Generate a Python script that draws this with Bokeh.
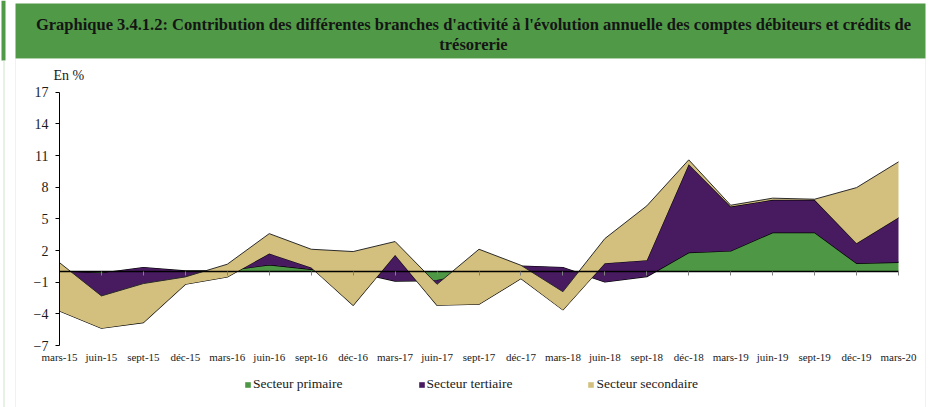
from bokeh.plotting import figure
from bokeh.models import (Range1d, FixedTicker, LinearAxis, Legend, LegendItem,
                          Label, BoxAnnotation, ColumnDataSource)
from bokeh.embed import file_html
from bokeh.resources import INLINE
import numpy as np

categories = ["mars-15", "juin-15", "sept-15", "déc-15", "mars-16", "juin-16", "sept-16",
              "déc-16", "mars-17", "juin-17", "sept-17", "déc-17", "mars-18", "juin-18",
              "sept-18", "déc-18", "mars-19", "juin-19", "sept-19", "déc-19", "mars-20"]
primaire = [0.00, -0.15, 0.38, 0.07, 0.10, 0.64, 0.22, 0.00, -0.90, -0.85, 0.00,
            0.53, 0.38, -0.98, -0.47, 1.80, 1.96, 3.70, 3.70, 0.79, 0.89]
tertiaire = [-3.73, -5.22, -5.21, -1.27, -0.60, 1.07, 0.18, -3.19, 2.48, -2.34, -3.09,
             -1.19, -4.01, 1.78, 1.55, 8.38, 4.20, 3.10, 3.10, 1.90, 4.23]
secondaire = [4.58, 3.07, 3.70, 0.70, 1.20, 1.89, 1.72, 5.09, 1.27, 1.99, 5.21,
              1.26, 1.73, 2.33, 5.15, 0.41, 0.13, 0.16, 0.06, 5.27, 5.28]
y_ticks = [-7, -4, -1, 2, 5, 8, 11, 14, 17]
series_names = ["Secteur primaire", "Secteur tertiaire", "Secteur secondaire"]
title_line1 = ("Graphique 3.4.1.2: Contribution des différentes branches d'activité à "
               "l'évolution annuelle des comptes débiteurs et crédits de")
title_line2 = "trésorerie"
unit_label = "En %"

GREEN = "#4e9845"
PURPLE = "#481a60"
TAN = "#d4c07e"
BANNER = "#509a47"
FONT = "Liberation Serif"

# canvas layout (pixels)
W, H = 931, 407
PLOT_L, PLOT_R, PLOT_T, PLOT_B = 59.0, 898.0, 91.7, 345.0

x = list(range(len(categories)))
c1 = np.array(primaire)
c2 = c1 + np.array(tertiaire)
c3 = c2 + np.array(secondaire)
src = ColumnDataSource(dict(x=x, zero=np.zeros(len(x)), c1=c1, c2=c2, c3=c3))

x0, x1 = 0, len(categories) - 1
y0, y1 = y_ticks[0], y_ticks[-1]
kx = (PLOT_R - PLOT_L) / (x1 - x0)
ky = (PLOT_B - PLOT_T) / (y1 - y0)
x_range = Range1d(x0 - PLOT_L / kx, x1 + (W - PLOT_R) / kx)
y_range = Range1d(y0 - (H - PLOT_B) / ky, y1 + PLOT_T / ky)

p = figure(width=W, height=H, output_backend="svg", toolbar_location=None,
           x_range=x_range, y_range=y_range, min_border=0,
           x_axis_location=None, y_axis_location=None)
p.outline_line_color = None
p.xgrid.visible = False
p.ygrid.visible = False
p.background_fill_color = "white"
p.border_fill_color = "white"

# banner and panel frame (screen units, from bottom-left of canvas)
p.add_layout(BoxAnnotation(left=15, right=925, top=H - 3, bottom=H - 58,
                           left_units="screen", right_units="screen",
                           top_units="screen", bottom_units="screen",
                           fill_color=BANNER, fill_alpha=1.0, line_color=None, level="underlay"))
p.add_layout(BoxAnnotation(left=15, right=925, top=H - 58, bottom=-5,
                           left_units="screen", right_units="screen",
                           top_units="screen", bottom_units="screen",
                           fill_color=None, line_color="#c3dcbd", line_width=1, level="underlay"))
p.add_layout(BoxAnnotation(left=1, right=5, top=H, bottom=H - 60,
                           left_units="screen", right_units="screen",
                           top_units="screen", bottom_units="screen",
                           fill_color=BANNER, fill_alpha=1.0, line_color=None, level="underlay"))
p.add_layout(BoxAnnotation(left=3, right=4, top=H - 60, bottom=-5,
                           left_units="screen", right_units="screen",
                           top_units="screen", bottom_units="screen",
                           fill_color="#cfe3ca", fill_alpha=1.0, line_color=None, level="underlay"))

g = p.varea(x="x", y1="zero", y2="c1", source=src, fill_color=GREEN)
p.line("x", "c1", source=src, line_color="black", line_width=1.3)
pu = p.varea(x="x", y1="c1", y2="c2", source=src, fill_color=PURPLE)
p.line("x", "c2", source=src, line_color="black", line_width=1.1)
t = p.varea(x="x", y1="c2", y2="c3", source=src, fill_color=TAN)
p.line("x", "c3", source=src, line_color="#2b2b2b", line_width=1.0)

# y axis at x = first category
ya = LinearAxis(fixed_location=x0, bounds=(y0, y1), ticker=FixedTicker(ticks=y_ticks))
ya.axis_line_color = "black"
ya.major_tick_in = 0
ya.major_tick_out = 4
ya.major_tick_line_color = "black"
ya.minor_tick_line_color = None
ya.major_label_standoff = 7
ya.major_label_text_font = FONT
ya.major_label_text_font_size = "14px"
ya.major_label_text_color = "#1a1a1a"
p.add_layout(ya, "left")

# category labels at the bottom of the plot
xa = LinearAxis(fixed_location=y0, bounds=(x0, x1), ticker=FixedTicker(ticks=x))
xa.major_label_overrides = {i: c for i, c in enumerate(categories)}
xa.axis_line_color = None
xa.major_tick_line_color = None
xa.minor_tick_line_color = None
xa.major_tick_in = 0
xa.major_tick_out = 0
xa.major_label_standoff = 5
xa.major_label_text_font = FONT
xa.major_label_text_font_size = "11px"
xa.major_label_text_color = "#1a1a1a"
p.add_layout(xa, "below")

# horizontal axis crossing at zero
za = LinearAxis(fixed_location=0, bounds=(x0, x1), ticker=FixedTicker(ticks=x))
za.major_label_overrides = {i: "" for i in x}
za.axis_line_color = "black"
za.axis_line_width = 1.5
za.major_tick_in = 0
za.major_tick_out = 4
za.major_tick_line_color = "#808080"
za.minor_tick_line_color = None
p.add_layout(za, "below")

for txt, yy in ((title_line1, H - 24), (title_line2, H - 44)):
    p.add_layout(Label(x=473, y=yy, x_units="screen", y_units="screen", text=txt,
                       text_align="center", text_baseline="middle", text_font=FONT,
                       text_font_style="bold", text_font_size="16.5px", text_color="#151515"))

p.add_layout(Label(x=53, y=H - 75, x_units="screen", y_units="screen", text=unit_label,
                   text_align="left", text_baseline="middle", text_font=FONT,
                   text_font_size="14px", text_color="#1a1a1a"))

legend = Legend(items=[LegendItem(label=series_names[0], renderers=[g]),
                       LegendItem(label=series_names[1], renderers=[pu]),
                       LegendItem(label=series_names[2], renderers=[t])],
                location=(244, H - 392), orientation="horizontal",
                glyph_width=7, glyph_height=7, label_standoff=2, spacing=75,
                padding=0, margin=0, border_line_color=None, background_fill_alpha=0,
                label_text_font=FONT, label_text_font_size="13.5px", label_text_color="#1a1a1a")
p.add_layout(legend)

open("out.html", "w").write(file_html(p, INLINE))
